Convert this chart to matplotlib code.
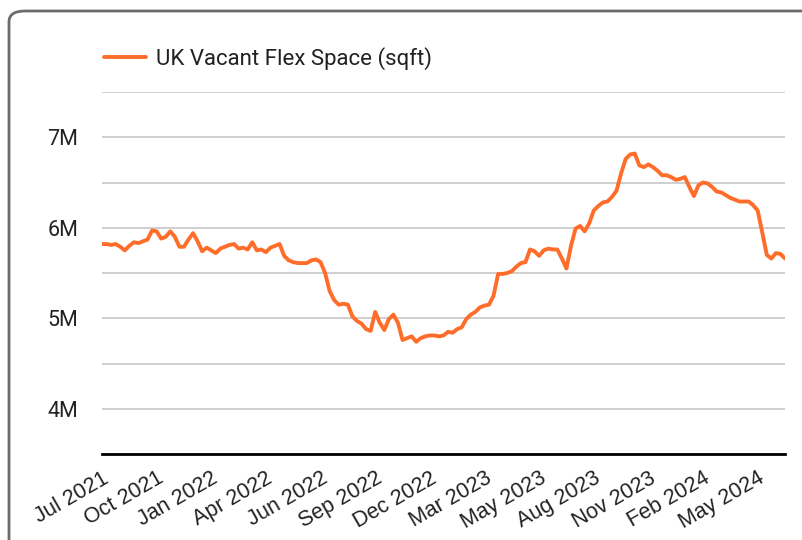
import matplotlib
matplotlib.use("Agg")
import matplotlib.pyplot as plt
from matplotlib.patches import FancyBboxPatch
from matplotlib.ticker import MultipleLocator, FuncFormatter

# weekly values, millions of sqft
vacant = [
    5.82, 5.82, 5.81, 5.82, 5.79, 5.75, 5.80, 5.84, 5.83, 5.85,
    5.87, 5.97, 5.96, 5.88, 5.90, 5.96, 5.90, 5.79, 5.79, 5.87,
    5.94, 5.85, 5.74, 5.78, 5.75, 5.72, 5.77, 5.79, 5.81, 5.82,
    5.77, 5.78, 5.76, 5.84, 5.75, 5.76, 5.73, 5.78, 5.80, 5.82,
    5.69, 5.64, 5.62, 5.61, 5.61, 5.61, 5.64, 5.65, 5.62, 5.50,
    5.30, 5.20, 5.15, 5.16, 5.15, 5.02, 4.97, 4.94, 4.88, 4.86,
    5.07, 4.95, 4.87, 4.99, 5.04, 4.95, 4.76, 4.78, 4.80, 4.74,
    4.78, 4.80, 4.81, 4.81, 4.80, 4.81, 4.85, 4.84, 4.88, 4.90,
    4.99, 5.04, 5.07, 5.12, 5.14, 5.15, 5.25, 5.49, 5.49, 5.50,
    5.52, 5.57, 5.61, 5.62, 5.76, 5.74, 5.69, 5.75, 5.77, 5.76,
    5.76, 5.66, 5.55, 5.80, 5.99, 6.02, 5.96, 6.05, 6.19, 6.24,
    6.28, 6.29, 6.34, 6.41, 6.60, 6.76, 6.81, 6.82, 6.69, 6.67,
    6.70, 6.67, 6.63, 6.58, 6.58, 6.56, 6.53, 6.54, 6.56, 6.45,
    6.35, 6.47, 6.50, 6.49, 6.45, 6.40, 6.39, 6.36, 6.33, 6.31,
    6.29, 6.29, 6.29, 6.25, 6.19, 5.95, 5.70, 5.66, 5.72, 5.71,
    5.66,
]
tick_labels = ["Jul 2021", "Oct 2021", "Jan 2022", "Apr 2022", "Jun 2022",
               "Sep 2022", "Dec 2022", "Mar 2023", "May 2023", "Aug 2023",
               "Nov 2023", "Feb 2024", "May 2024"]
tick_step = 12

W, H = 803, 540
fig = plt.figure(figsize=(W / 100, H / 100), dpi=100)

# rounded card border, runs off the right and bottom edges
frame = FancyBboxPatch((9 / W, -12 / H), 820 / W, (529 + 12) / H,
                       boxstyle="round,pad=0,rounding_size=0.02",
                       transform=fig.transFigure, facecolor="white",
                       edgecolor="#6b6b6b", linewidth=2, zorder=-10)
fig.patches.append(frame)

ax = fig.add_axes([102 / W, 1 - 454 / H, (785 - 102) / W, (454 - 92) / H])
ax.set_zorder(1)
ax.set_facecolor("none")

x = list(range(len(vacant)))
ax.plot(x, vacant, color="#ff6d2a", linewidth=2.8, solid_joinstyle="round",
        solid_capstyle="round", label="UK Vacant Flex Space (sqft)", zorder=3)

ax.set_xlim(0, len(vacant) - 1)
ax.set_ylim(3.5, 7.5)
ax.yaxis.set_major_locator(MultipleLocator(0.5))
ax.yaxis.set_major_formatter(FuncFormatter(
    lambda v, p: f"{v:.0f}M" if abs(v - round(v)) < 1e-6 and v > 3.6 else ""))
ax.grid(axis="y", color="#cccccc", linewidth=1.3)
ax.set_axisbelow(True)

for s in ["left", "right", "top"]:
    ax.spines[s].set_visible(False)
ax.spines["bottom"].set_color("black")
ax.spines["bottom"].set_linewidth(2)
ax.spines["bottom"].set_zorder(4)

ax.tick_params(axis="y", length=0, pad=17, labelsize=15.5, labelcolor="#222222")
for t in ax.get_yticklabels():
    t.set_family("Roboto")

ax.set_xticks(range(0, len(vacant), tick_step)[:len(tick_labels)])
ax.set_xticklabels(tick_labels, rotation=30, ha="right", va="top",
                   rotation_mode="anchor", family="Liberation Sans",
                   fontsize=15.5, color="#222222")
ax.tick_params(axis="x", length=0, pad=10)

leg = ax.legend(loc="lower left", bbox_to_anchor=(-0.01, 1.037), frameon=False,
                handlelength=1.9, handletextpad=0.45, borderaxespad=0,
                prop={"family": "Roboto", "size": 16})
for t in leg.get_texts():
    t.set_color("#222222")

fig.savefig("out.png", dpi=100)
